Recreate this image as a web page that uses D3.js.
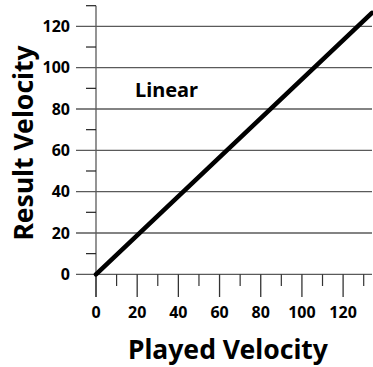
<!DOCTYPE html>
<html><head><meta charset="utf-8">
<script src="https://cdn.jsdelivr.net/npm/d3@7"></script>
<style>
html,body{margin:0;padding:0;background:#fff;}
text{font-family:"Noto Sans",sans-serif;font-weight:bold;fill:#000;}
</style></head>
<body>
<svg id="chart" width="373" height="367"></svg>
<script>
const played = [0, 134];
const result = [0, 126.5];
const majorTicks = [0, 20, 40, 60, 80, 100, 120];
const minorTicks = [10, 30, 50, 70, 90, 110, 130];
const curveLabel = "Linear";
const xTitle = "Played Velocity";
const yTitle = "Result Velocity";

const svg = d3.select("#chart");
const x = d3.scaleLinear().domain([0, 130]).range([96, 363.7]);
const y = d3.scaleLinear().domain([0, 130]).range([274.3, 5.7]);
const grid = "#5a5a5a";

svg.append("g").selectAll("line").data(majorTicks).join("line")
  .attr("x1", 76).attr("x2", 372)
  .attr("y1", d => y(d)).attr("y2", d => y(d))
  .attr("stroke", grid).attr("stroke-width", 1.3);

svg.append("line").attr("x1", x(0)).attr("x2", x(0))
  .attr("y1", y(130)).attr("y2", 297)
  .attr("stroke", grid).attr("stroke-width", 1.3);

svg.append("g").selectAll("line").data(minorTicks).join("line")
  .attr("x1", 86).attr("x2", x(0))
  .attr("y1", d => y(d)).attr("y2", d => y(d))
  .attr("stroke", "#222").attr("stroke-width", 1.2);

svg.append("g").selectAll("line").data(majorTicks).join("line")
  .attr("x1", d => x(d)).attr("x2", d => x(d))
  .attr("y1", y(0)).attr("y2", 297)
  .attr("stroke", "#333").attr("stroke-width", 1.3);
svg.append("g").selectAll("line").data(minorTicks).join("line")
  .attr("x1", d => x(d)).attr("x2", d => x(d))
  .attr("y1", y(0)).attr("y2", 286)
  .attr("stroke", "#333").attr("stroke-width", 1.2);

svg.append("g").selectAll("text").data(majorTicks).join("text")
  .attr("x", 70).attr("y", d => y(d)).attr("dy", "0.36em")
  .attr("text-anchor", "end").attr("font-size", 16).text(d => d);
svg.append("g").selectAll("text").data(majorTicks).join("text")
  .attr("x", d => x(d)).attr("y", 318)
  .attr("text-anchor", "middle").attr("font-size", 16).text(d => d);

svg.append("defs").append("clipPath").attr("id", "clip")
  .append("rect").attr("x", 0).attr("y", 0).attr("width", 373).attr("height", 367);
const pts = played.map((p, i) => [x(p), y(result[i])]);
svg.append("path").attr("d", d3.line()(pts))
  .attr("fill", "none").attr("stroke", "#000").attr("stroke-width", 4.6)
  .attr("stroke-linecap", "round").attr("clip-path", "url(#clip)");

svg.append("text").attr("x", 135).attr("y", 97).attr("font-size", 20).text(curveLabel);
svg.append("text").attr("x", 228).attr("y", 359).attr("text-anchor", "middle")
  .attr("font-size", 26.5).text(xTitle);
svg.append("text").attr("transform", "translate(33,143) rotate(-90)")
  .attr("text-anchor", "middle").attr("font-size", 26.5).text(yTitle);
</script>
</body></html>
